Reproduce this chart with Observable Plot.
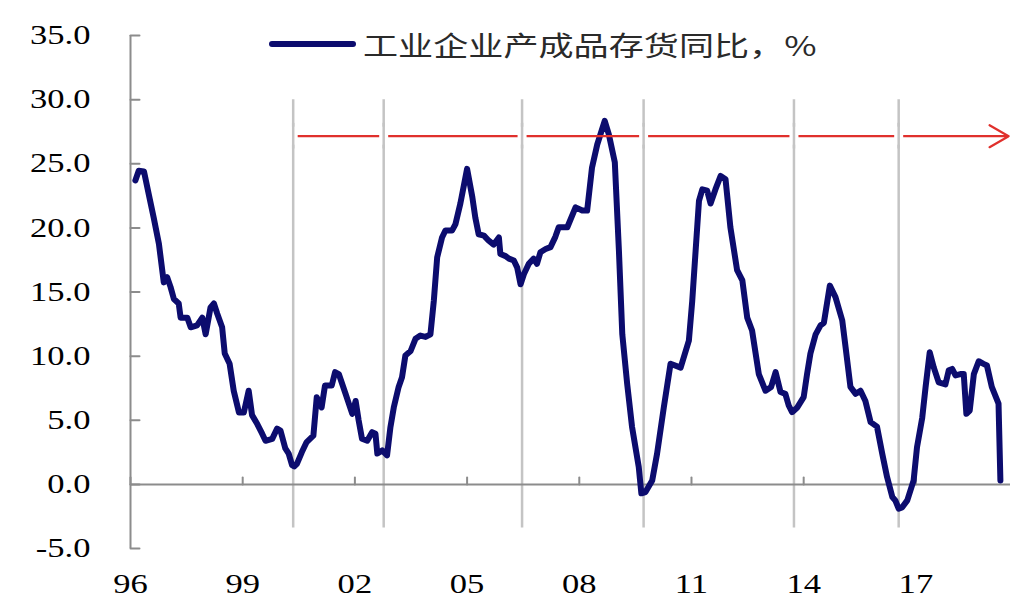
<!DOCTYPE html>
<html>
<head>
<meta charset="utf-8">
<script src="https://cdn.jsdelivr.net/npm/d3@7"></script>
<script src="https://cdn.jsdelivr.net/npm/@observablehq/plot@0.6"></script>
<style>
  body { margin: 0; background: #fff; }
  #wrap { position: relative; width: 1036px; height: 615px; overflow: hidden; background: #fff; }
  #legend { position: absolute; left: 269px; top: 25px; height: 38px; display: flex; align-items: center; white-space: nowrap; }
  #legend .sw { width: 87px; height: 6px; border-radius: 3px; background: #0c0c6e; }
  #legend .lb { margin-left: 7px; font-family: "Noto Sans CJK SC", sans-serif; font-size: 27px; color: #2a2a2a; transform: scaleX(1.3); transform-origin: left center; }
</style>
</head>
<body>
<div id="wrap">
  <div id="chart"></div>
  <div id="legend"><div class="sw"></div><div class="lb"></div></div>
</div>
<script>
// ---- data (decimal year, % yoy) ----
const years = [
  1996.13,1996.22,1996.36,1996.49,1996.62,1996.76,1996.89,1996.98,1997.07,1997.16,
  1997.29,1997.34,1997.52,1997.61,1997.78,1997.92,1998.01,1998.14,1998.23,1998.32,
  1998.45,1998.52,1998.65,1998.76,1998.90,1999.03,1999.16,1999.25,1999.39,1999.52,
  1999.61,1999.79,1999.92,2000.01,2000.14,2000.23,2000.32,2000.38,2000.45,2000.58,
  2000.71,2000.89,2000.98,2001.11,2001.20,2001.38,2001.47,2001.57,2001.75,2001.84,
  2001.93,2002.02,2002.10,2002.19,2002.33,2002.46,2002.55,2002.60,2002.73,2002.86,
  2002.95,2003.04,2003.17,2003.26,2003.35,2003.49,2003.62,2003.75,2003.89,2004.02,
  2004.11,2004.20,2004.33,2004.42,2004.60,2004.69,2004.82,2005.00,2005.14,2005.22,
  2005.31,2005.45,2005.58,2005.71,2005.85,2005.89,2006.03,2006.12,2006.25,2006.34,
  2006.43,2006.52,2006.65,2006.78,2006.87,2006.96,2007.10,2007.23,2007.36,2007.45,
  2007.68,2007.90,2008.08,2008.21,2008.34,2008.48,2008.68,2008.79,2008.95,2009.06,
  2009.15,2009.28,2009.41,2009.59,2009.66,2009.77,2009.95,2010.08,2010.26,2010.44,
  2010.71,2010.93,2011.02,2011.11,2011.20,2011.29,2011.42,2011.51,2011.64,2011.78,
  2011.91,2012.04,2012.22,2012.36,2012.49,2012.62,2012.80,2012.98,2013.13,2013.25,
  2013.38,2013.51,2013.60,2013.69,2013.83,2014.00,2014.09,2014.18,2014.32,2014.45,
  2014.54,2014.70,2014.85,2015.03,2015.12,2015.25,2015.39,2015.52,2015.65,2015.79,
  2015.96,2016.10,2016.23,2016.37,2016.45,2016.54,2016.63,2016.77,2016.94,2017.03,
  2017.17,2017.26,2017.37,2017.48,2017.61,2017.79,2017.88,2017.97,2018.06,2018.19,
  2018.28,2018.35,2018.44,2018.55,2018.68,2018.81,2018.90,2019.03,2019.21,2019.26
];
const values = [
  23.7,24.45,24.4,22.6,20.8,18.75,15.75,16.15,15.4,14.45,
  14.1,13.0,13.0,12.25,12.4,13.0,11.7,13.8,14.1,13.3,
  12.25,10.2,9.4,7.3,5.6,5.6,7.3,5.4,4.7,3.95,
  3.4,3.55,4.35,4.2,2.8,2.4,1.5,1.4,1.6,2.5,
  3.3,3.8,6.8,6.0,7.7,7.7,8.75,8.6,7.06,6.28,
  5.5,6.5,5.0,3.56,3.4,4.07,3.95,2.4,2.65,2.26,
  4.46,6.0,7.6,8.35,10.05,10.4,11.35,11.6,11.5,11.7,
  14.3,17.7,19.25,19.8,19.8,20.3,21.9,24.6,22.4,20.8,
  19.5,19.4,19.0,18.7,19.25,17.96,17.8,17.6,17.45,16.9,
  15.6,16.4,17.2,17.6,17.2,18.1,18.35,18.5,19.3,20.05,
  20.05,21.6,21.35,21.35,24.7,26.5,28.35,27.3,25.1,18.2,
  11.7,7.85,4.5,1.35,-0.7,-0.6,0.3,2.4,6.0,9.4,
  9.1,11.2,14.3,18.2,22.1,23.0,22.9,21.9,23.0,24.05,
  23.8,20.05,16.7,15.9,13.0,12.0,8.6,7.3,7.6,8.75,
  7.2,7.06,6.15,5.63,6.0,6.8,8.6,10.2,11.7,12.4,
  12.6,15.5,14.6,12.8,10.7,7.6,7.06,7.3,6.5,4.85,
  4.5,2.4,0.57,-0.99,-1.25,-1.9,-1.8,-1.25,0.31,2.9,
  5.2,7.6,10.3,9.1,7.95,7.8,8.9,9.0,8.5,8.6,
  8.6,5.5,5.76,8.6,9.6,9.4,9.27,7.6,6.3,0.31
];
const yTicks = [-5, 0, 5, 10, 15, 20, 25, 30, 35];
const xTicks = [1996, 1999, 2002, 2005, 2008, 2011, 2014, 2017];
const xTickLabels = ["96", "99", "02", "05", "08", "11", "14", "17"];
const markerYears = [2000.35, 2002.77, 2006.47, 2009.72, 2013.74, 2016.54];
const arrowSpec = [{x1: 2000.35, x2: 2019.48, y: 27.15}];
const legendLabel = "工业企业产成品存货同比，%";

// ---- build ----
const data = years.map((t, i) => ({t, v: values[i]}));
const tickShape = {draw(ctx, l) { ctx.moveTo(0, 0); ctx.lineTo(0, -l); }};
const axisGray = "#8c8c8c", markGray = "#c4c4c4";
const band = 0.7;

const plot = Plot.plot({
  width: 1036, height: 615,
  marginLeft: 130, marginRight: 26, marginTop: 35, marginBottom: 67,
  x: {domain: [1996, 2019.53]},
  y: {domain: [-5, 35]},
  style: {fontFamily: "'Liberation Serif', 'Times New Roman', serif", fontSize: "27px", color: "#000", background: "#fff"},
  marks: [
    Plot.axisY({ticks: yTicks, tickFormat: d => d.toFixed(1), tickSize: 0, tickPadding: 40, label: null, fontSize: 27}),
    Plot.axisX({ticks: xTicks, tickFormat: d => xTickLabels[xTicks.indexOf(d)], tickSize: 0, tickPadding: 25, label: null, fontSize: 27}),
    Plot.ruleX(markerYears, {x: d => d, y1: -3.4, y2: 30, stroke: markGray, strokeWidth: 2.5}),
    Plot.ruleY([0], {stroke: axisGray, strokeWidth: 2}),
    Plot.ruleX([1996], {stroke: axisGray, strokeWidth: 2}),
    Plot.vector(yTicks, {y: d => d, frameAnchor: "left", length: 9, rotate: 90, anchor: "start", shape: tickShape, stroke: axisGray, strokeWidth: 2}),
    Plot.vector(xTicks, {x: d => d, y: 0, length: 7, rotate: 0, anchor: "start", shape: tickShape, stroke: axisGray, strokeWidth: 2}),
    Plot.line(data, {x: "t", y: "v", stroke: "#0c0c6e", strokeWidth: 6, strokeLinejoin: "round", strokeLinecap: "round"}),
    Plot.arrow(arrowSpec, {x1: "x1", x2: "x2", y1: "y", y2: "y", stroke: "#e0302c", strokeWidth: 2.2, headLength: 15, headAngle: 60}),
    Plot.ruleX(markerYears, {x: d => d, y1: arrowSpec[0].y - band, y2: arrowSpec[0].y + band, stroke: "#fff", strokeWidth: 9}),
    Plot.ruleX(markerYears, {x: d => d, y1: arrowSpec[0].y - band - 0.3, y2: arrowSpec[0].y + band + 0.3, stroke: markGray, strokeWidth: 2.5})
  ]
});

// horizontal stretch of tick labels (the reference is widened)
plot.querySelectorAll('g[aria-label$="tick label"] text').forEach(t => {
  const tr = t.getAttribute("transform");
  if (tr) t.setAttribute("transform", tr + " scale(1.28,1)");
  else {
    const x = +t.getAttribute("x") || 0, y = +t.getAttribute("y") || 0;
    t.setAttribute("x", 0); t.setAttribute("y", 0);
    t.setAttribute("transform", `translate(${x},${y}) scale(1.28,1)`);
  }
});

document.getElementById("chart").appendChild(plot);
document.querySelector("#legend .lb").textContent = legendLabel;
</script>
</body>
</html>
